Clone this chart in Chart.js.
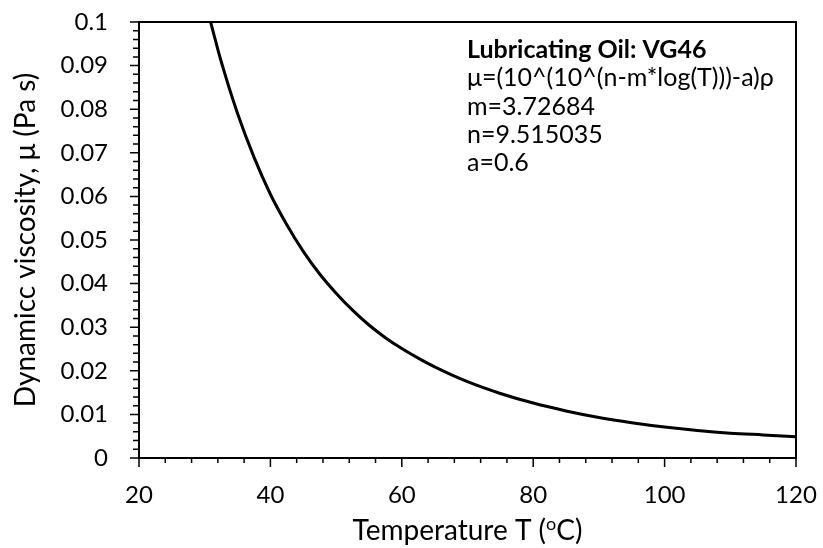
<!DOCTYPE html>
<html>
<head>
<meta charset="utf-8">
<script src="https://cdn.jsdelivr.net/npm/chart.js@4/dist/chart.umd.min.js"></script>
<style>
  html, body { margin: 0; padding: 0; background: #fff; }
  #wrap { width: 823px; height: 548px; }
</style>
</head>
<body>
<div id="wrap"><canvas id="chart"></canvas></div>
<script>
// values
const temps = [30.9, 32.5, 35, 37.5, 40, 42.5, 45, 47.5, 50, 52.5, 55, 57.5, 60, 62.5, 65, 70, 75, 80, 85, 90, 95, 100, 105, 110, 115, 120];
const viscosity = [0.1000, 0.0910, 0.0790, 0.0690, 0.0605, 0.0535, 0.0474, 0.0422, 0.0378, 0.0339, 0.0305, 0.0276, 0.0251, 0.0229, 0.0209, 0.0175, 0.0148, 0.0126, 0.0108, 0.0093, 0.0081, 0.0071, 0.0063, 0.0057, 0.0053, 0.0049];

const xMin = 20, xMax = 120, xMajor = 20, xMinor = 4;
const yMin = 0, yMax = 0.1, yMajor = 0.01, yMinor = 0.002;

const noteLines = [
  'Lubricating Oil: VG46',
  'μ=(10^(10^(n-m*log(T)))-a)ρ',
  'm=3.72684',
  'n=9.515035',
  'a=0.6',
];

const FONT = 'Lato, "Open Sans", sans-serif';

const isMajor = (v, step) => Math.abs(v / step - Math.round(v / step)) < 1e-6;

// frame, tick marks, x title with superscript, annotation text
const decorations = {
  id: 'decorations',
  afterDraw(chart) {
    const { ctx, chartArea: a, scales } = chart;
    ctx.save();
    ctx.strokeStyle = '#000';

    // ticks
    ctx.lineWidth = 1.5;
    ctx.beginPath();
    scales.x.ticks.forEach(t => {
      const px = scales.x.getPixelForValue(t.value);
      const len = isMajor(t.value, xMajor) ? 9 : 5;
      ctx.moveTo(px, a.bottom);
      ctx.lineTo(px, a.bottom + len);
    });
    scales.y.ticks.forEach(t => {
      const py = scales.y.getPixelForValue(t.value);
      const len = isMajor(t.value, yMajor) ? 9 : 6;
      ctx.moveTo(a.left, py);
      ctx.lineTo(a.left - len, py);
    });
    ctx.stroke();

    // plot frame
    ctx.lineWidth = 2;
    ctx.strokeRect(a.left, a.top, a.right - a.left, a.bottom - a.top);

    // x axis title
    ctx.fillStyle = '#000';
    ctx.textBaseline = 'middle';
    const cx = (a.left + a.right) / 2, ty = 531;
    const p1 = 'Temperature T (', sup = 'o', p2 = 'C)';
    ctx.font = '28px ' + FONT;
    const w1 = ctx.measureText(p1).width, w3 = ctx.measureText(p2).width;
    ctx.font = '18px ' + FONT;
    const w2 = ctx.measureText(sup).width;
    let x = cx - (w1 + w2 + w3) / 2;
    ctx.textAlign = 'left';
    ctx.font = '28px ' + FONT;
    ctx.fillText(p1, x, ty);
    x += w1;
    ctx.font = '18px ' + FONT;
    ctx.fillText(sup, x, ty - 7);
    x += w2;
    ctx.font = '28px ' + FONT;
    ctx.fillText(p2, x, ty);

    // annotation
    noteLines.forEach((line, i) => {
      ctx.font = (i === 0 ? 'bold ' : '') + '25px ' + FONT;
      ctx.fillText(line, 467, 50 + i * 28.3);
    });
    ctx.restore();
  },
};

new Chart(document.getElementById('chart'), {
  type: 'line',
  data: {
    datasets: [{
      data: temps.map((t, i) => ({ x: t, y: viscosity[i] })),
      borderColor: '#000',
      borderWidth: 3,
      pointRadius: 0,
      fill: false,
      cubicInterpolationMode: 'monotone',
    }],
  },
  options: {
    responsive: true,
    maintainAspectRatio: false,
    animation: false,
    layout: { padding: { top: 22, right: 27, left: 0, bottom: 0 } },
    plugins: { legend: { display: false }, tooltip: { enabled: false } },
    scales: {
      x: {
        type: 'linear',
        min: xMin,
        max: xMax,
        afterFit: s => { s.height = 90; },
        border: { display: false },
        grid: { drawOnChartArea: false, tickLength: 23, tickColor: 'transparent' },
        ticks: {
          stepSize: xMinor,
          autoSkip: false,
          maxRotation: 0,
          padding: 0,
          color: '#000',
          font: { family: FONT, size: 24 },
          callback: v => (isMajor(v, xMajor) ? String(Math.round(v)) : ''),
        },
      },
      y: {
        type: 'linear',
        min: yMin,
        max: yMax,
        afterFit: s => { s.width = 139; },
        border: { display: false },
        grid: { drawOnChartArea: false, tickLength: 31, tickColor: 'transparent' },
        ticks: {
          stepSize: yMinor,
          autoSkip: false,
          padding: 0,
          color: '#000',
          font: { family: FONT, size: 24 },
          callback: v => (isMajor(v, yMajor) ? String(parseFloat(v.toFixed(2))) : ''),
        },
        title: {
          display: true,
          text: 'Dynamicc viscosity, μ (Pa s)',
          color: '#000',
          font: { family: FONT, size: 28 },
          padding: { top: 9, bottom: 0 },
        },
      },
    },
  },
  plugins: [decorations],
});
</script>
</body>
</html>
